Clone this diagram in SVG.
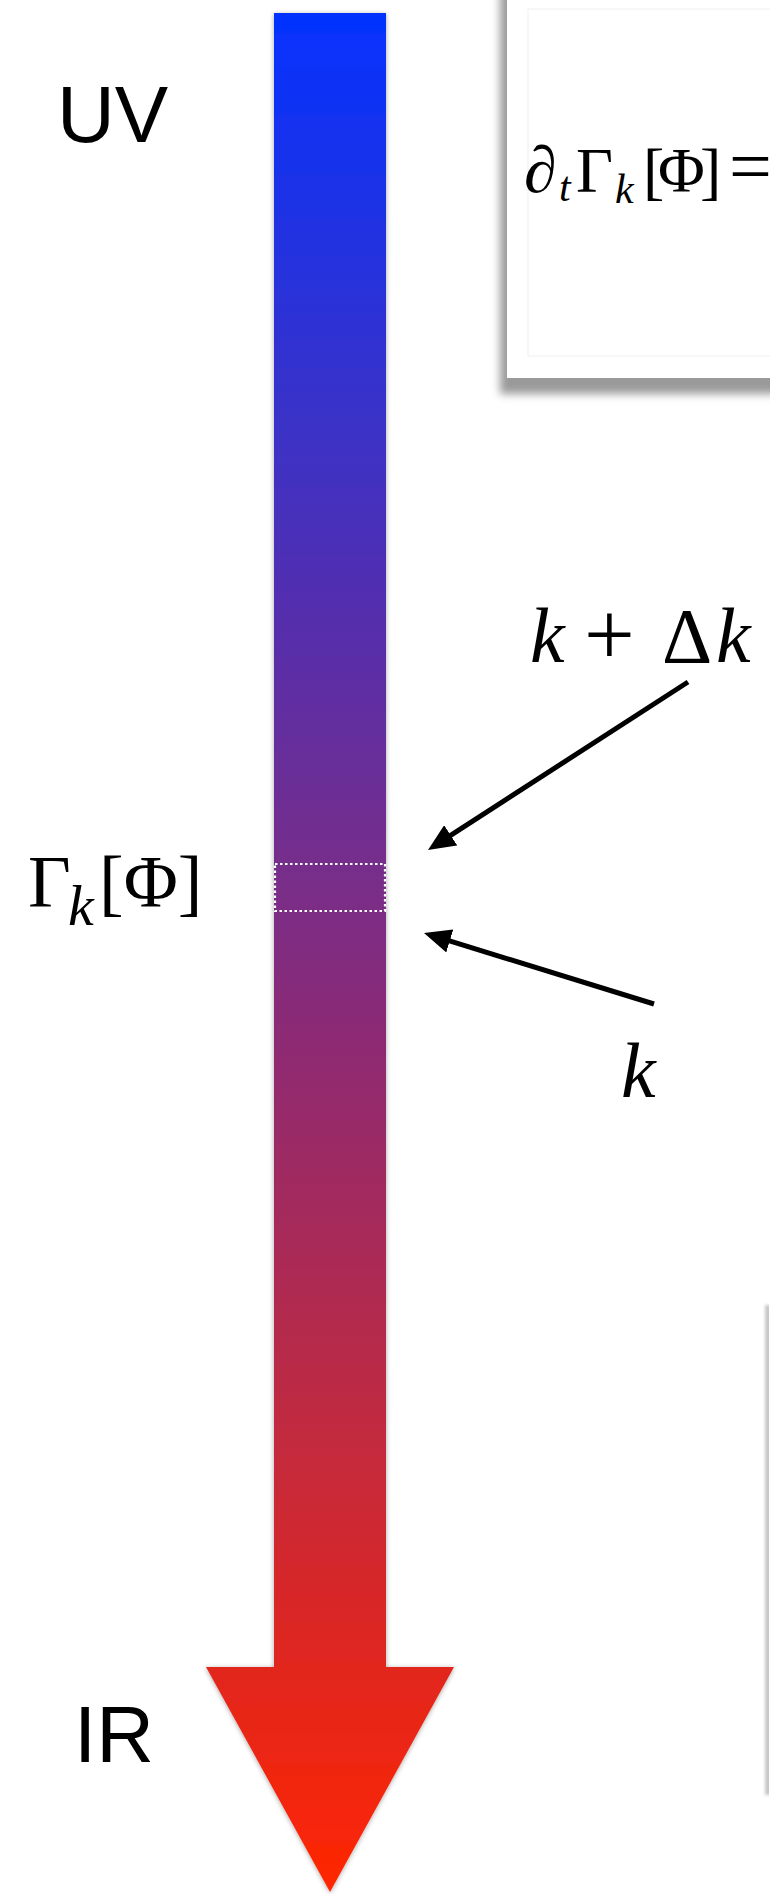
<svg xmlns="http://www.w3.org/2000/svg" width="770" height="1894" viewBox="0 0 770 1894">
  <defs>
    <linearGradient id="flow" x1="0" y1="13" x2="0" y2="1892" gradientUnits="userSpaceOnUse">
      <stop offset="0" stop-color="#0433FF"/>
      <stop offset="1" stop-color="#FF2600"/>
    </linearGradient>
    <filter id="barShadow" x="-20%" y="-5%" width="140%" height="110%">
      <feDropShadow dx="0" dy="1" stdDeviation="2.5" flood-color="#000" flood-opacity="0.35"/>
    </filter>
    <filter id="blur4" x="-20%" y="-20%" width="140%" height="140%">
      <feGaussianBlur stdDeviation="4"/>
    </filter>
    <filter id="blur2" x="-100%" y="-10%" width="300%" height="120%">
      <feGaussianBlur stdDeviation="1.5"/>
    </filter>
    <marker id="head" markerUnits="userSpaceOnUse" viewBox="0 0 27 24" markerWidth="27" markerHeight="24" refX="7" refY="12" orient="auto">
      <path d="M0,0 L27,12 L0,24 z" fill="#000"/>
    </marker>
  </defs>
  <style>
    .sans { font-family: "Liberation Sans", Arial, sans-serif; fill: #000; }
    .serif { font-family: "Liberation Serif", "Times New Roman", serif; fill: #000; }
    .it { font-style: italic; }
    .conn { stroke: #000; stroke-width: 5; fill: none; marker-end: url(#head); }
  </style>

  <rect x="0" y="0" width="770" height="1894" fill="#fff"/>

  <!-- equation box (top right, partly outside) -->
  <g id="eq-box">
    <rect x="500" y="-20" width="300" height="414" fill="#9a9a9a" filter="url(#blur4)"/>
    <rect x="507" y="-10" width="280" height="388" fill="#fff"/>
    <rect x="528" y="9" width="260" height="347" fill="none" stroke="#f0f0f0" stroke-width="1"/>
    <text class="serif" y="192" font-size="64"><tspan x="524" font-size="66">∂</tspan><tspan class="it" x="559" y="201" font-size="42">t</tspan><tspan x="576" y="192">Γ</tspan><tspan class="it" x="615" y="203" font-size="42">k</tspan><tspan x="643" y="192">[</tspan><tspan x="658">Φ</tspan><tspan x="700">]</tspan><tspan x="729" font-size="76">=</tspan></text>
  </g>

  <!-- second box (bottom right, mostly outside) -->
  <g id="side-box">
    <rect x="765" y="1305" width="12" height="490" fill="#c8c8c8" filter="url(#blur2)"/>
    <rect x="769" y="1300" width="10" height="500" fill="#fff"/>
  </g>

  <!-- RG flow arrow -->
  <g id="flow-arrow">
    <path d="M274,13 L386,13 L386,1667 L454,1667 L330,1892 L206,1667 L274,1667 Z" fill="url(#flow)" filter="url(#barShadow)"/>
  </g>

  <!-- momentum shell window -->
  <g id="shell">
    <rect x="275" y="864" width="110" height="47" fill="none" stroke="#fff" stroke-width="2.2" stroke-dasharray="2.5 2.5"/>
  </g>

  <g id="label-uv">
    <text class="sans" x="57" y="142" font-size="80">UV</text>
  </g>
  <g id="label-ir">
    <text class="sans" x="74" y="1762" font-size="80">IR</text>
  </g>

  <g id="label-gamma">
    <text class="serif" font-size="74"><tspan x="28" y="907">Γ</tspan><tspan class="it" x="68" y="925" font-size="58">k</tspan><tspan x="99" y="907">[Φ]</tspan></text>
  </g>

  <g id="label-kdk">
    <text class="serif" y="662" font-size="78"><tspan class="it" x="530">k</tspan><tspan x="584" font-size="90" y="665">+</tspan><tspan x="662" y="662">Δ</tspan><tspan class="it" x="716">k</tspan></text>
  </g>

  <g id="label-k">
    <text class="serif it" x="621" y="1097" font-size="78">k</text>
  </g>

  <g id="connectors">
    <line class="conn" x1="688" y1="682" x2="444.8" y2="839.1"/>
    <line class="conn" x1="654" y1="1004" x2="443.1" y2="938.9"/>
  </g>
</svg>
